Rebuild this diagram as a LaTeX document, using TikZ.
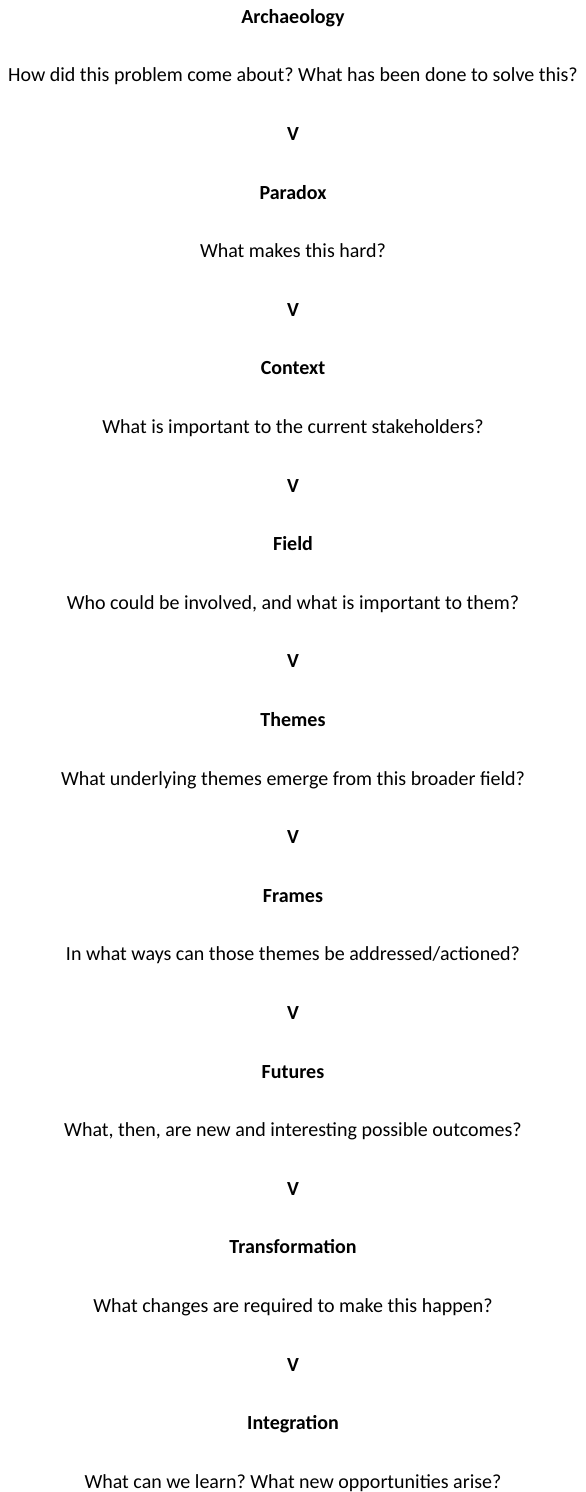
\documentclass[tikz,border=0pt]{standalone}
\usepackage{fontspec}
\setmainfont{Carlito}
\usepackage{tikz}
\usetikzlibrary{positioning}
\frenchspacing

\begin{document}
\begin{tikzpicture}[x=1pt,y=58.6pt,
  every node/.style={font=\fontsize{20}{24}\selectfont,inner sep=0pt,anchor=base,yshift=-6.4pt},
  stage/.style={font=\fontsize{20}{24}\selectfont\bfseries},
  ask/.style={},
  down/.style={font=\fontsize{20}{24}\selectfont\bfseries}]
  \useasboundingbox (-293,0.29) rectangle (293,-25.171);
  \node[stage] (archaeology) at (0,0) {Archaeology};
  \node[ask] (q1) at (0,-1) {How did this problem come about? What has been done to solve this?};
  \node[down] (v1) at (0,-2) {V};
  \node[stage] (paradox) at (0,-3) {Paradox};
  \node[ask] (q2) at (0,-4) {What makes this hard?};
  \node[down] (v2) at (0,-5) {V};
  \node[stage] (context) at (0,-6) {Context};
  \node[ask] (q3) at (0,-7) {What is important to the current stakeholders?};
  \node[down] (v3) at (0,-8) {V};
  \node[stage] (field) at (0,-9) {Field};
  \node[ask] (q4) at (0,-10) {Who could be involved, and what is important to them?};
  \node[down] (v4) at (0,-11) {V};
  \node[stage] (themes) at (0,-12) {Themes};
  \node[ask] (q5) at (0,-13) {What underlying themes emerge from this broader field?};
  \node[down] (v5) at (0,-14) {V};
  \node[stage] (frames) at (0,-15) {Frames};
  \node[ask] (q6) at (0,-16) {In what ways can those themes be addressed/actioned?};
  \node[down] (v6) at (0,-17) {V};
  \node[stage] (futures) at (0,-18) {Futures};
  \node[ask] (q7) at (0,-19) {What, then, are new and interesting possible outcomes?};
  \node[down] (v7) at (0,-20) {V};
  \node[stage] (transformation) at (0,-21) {Transformation};
  \node[ask] (q8) at (0,-22) {What changes are required to make this happen?};
  \node[down] (v8) at (0,-23) {V};
  \node[stage] (integration) at (0,-24) {Integration};
  \node[ask] (q9) at (0,-25) {What can we learn? What new opportunities arise?};
\end{tikzpicture}
\end{document}
